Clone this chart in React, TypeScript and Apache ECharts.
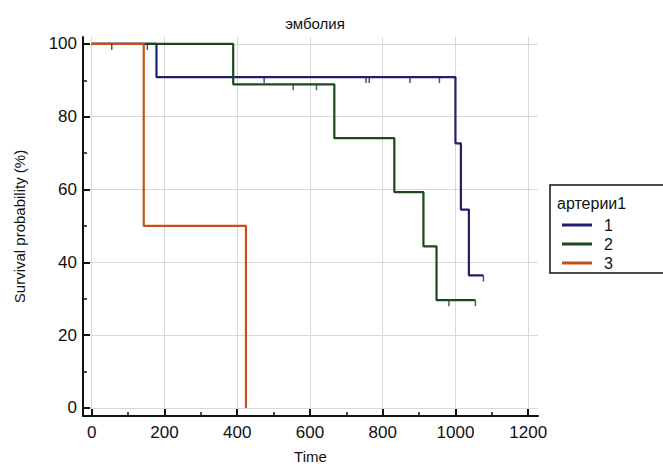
import React, { useEffect, useRef } from "react";
import * as echarts from "echarts";

const titleText = "эмболия";
const legendTitle = "артерии1";
const groupNames = ["1", "2", "3"];
const colors = ["#1f1f6e", "#1a4a1a", "#c4501c"];

const times1 = [0, 178, 1000, 1015, 1037, 1077];
const surv1 = [100, 90.9, 72.7, 54.5, 36.4, 36.4];
const times2 = [0, 389, 667, 832, 912, 948, 1055];
const surv2 = [100, 88.9, 74.1, 59.3, 44.4, 29.6, 29.6];
const times3 = [0, 143, 424];
const surv3 = [100, 50, 0];

const cens1T = [55, 153, 474, 754, 763, 875, 956, 1077];
const cens1S = [100, 100, 90.9, 90.9, 90.9, 90.9, 90.9, 36.4];
const cens2T = [554, 618, 982, 1055];
const cens2S = [88.9, 88.9, 29.6, 29.6];

const xMajor = [0, 200, 400, 600, 800, 1000, 1200];
const xMinor = [100, 300, 500, 700, 900, 1100];
const yMajor = [0, 20, 40, 60, 80, 100];
const yMinor = [10, 30, 50, 70, 90];

const FONT = "Liberation Sans, Arial, sans-serif";

function zip(a: number[], b: number[]) {
  return a.map((v, i) => [v, b[i]]);
}

export default function App() {
  const ref = useRef<HTMLDivElement>(null);
  useEffect(() => {
    if (!ref.current) return;
    const chart = echarts.init(ref.current, null, { renderer: "svg" });
    const grid = { left: 83, right: 125, top: 37, bottom: 47 };
    const xBase = { type: "value", min: -24, max: 1227, gridIndex: 0 };
    const yBase = { type: "value", min: -2.2, max: 101.9, gridIndex: 0 };
    const lineS = (name: string, d: number[][], c: string) => ({
      type: "line",
      name,
      data: d,
      step: "end",
      showSymbol: false,
      symbol: "none",
      lineStyle: { color: c, width: 2.2 },
      itemStyle: { color: c },
      z: 3,
    });
    const cens = (d: number[][], c: string) => ({
      type: "scatter",
      data: d,
      symbol: "rect",
      symbolSize: [1.5, 6],
      symbolOffset: [0, 3],
      itemStyle: { color: c },
      silent: true,
      z: 3,
    });
    chart.setOption({
      animation: false,
      backgroundColor: "#ffffff",
      title: {
        text: titleText,
        left: 310,
        top: 11,
        textAlign: "center",
        textStyle: { fontFamily: FONT, fontSize: 15, fontWeight: "normal", color: "#111" },
      },
      grid,
      xAxis: [
        {
          ...xBase,
          name: "Time",
          nameLocation: "middle",
          nameGap: 33,
          nameTextStyle: { fontFamily: FONT, fontSize: 15, color: "#111" },
          axisLine: { show: true, onZero: false, lineStyle: { color: "#111", width: 2 } },
          axisTick: { show: true, inside: true, length: 7, customValues: xMajor, lineStyle: { color: "#111", width: 2 } },
          axisLabel: { customValues: xMajor, margin: 8, fontFamily: FONT, fontSize: 17, color: "#111", formatter: (v: number) => String(v) },
          splitLine: { show: true, lineStyle: { color: "#d8d8d8", width: 1 } },
        },
        {
          ...xBase,
          position: "bottom",
          axisLine: { show: false, onZero: false },
          axisTick: { show: true, inside: true, length: 4, customValues: xMinor, lineStyle: { color: "#111", width: 1.5 } },
          axisLabel: { show: false },
          splitLine: { show: false },
        },
      ],
      yAxis: [
        {
          ...yBase,
          name: "Survival probability (%)",
          nameLocation: "middle",
          nameGap: 56,
          nameTextStyle: { fontFamily: FONT, fontSize: 15, color: "#111" },
          axisLine: { show: true, onZero: false, lineStyle: { color: "#111", width: 2 } },
          axisTick: { show: true, inside: true, length: 7, customValues: yMajor, lineStyle: { color: "#111", width: 2 } },
          axisLabel: { customValues: yMajor, margin: 6, fontFamily: FONT, fontSize: 17, color: "#111", formatter: (v: number) => String(v) },
          splitLine: { show: true, lineStyle: { color: "#d8d8d8", width: 1 } },
        },
        {
          ...yBase,
          position: "left",
          axisLine: { show: false, onZero: false },
          axisTick: { show: true, inside: true, length: 4, customValues: yMinor, lineStyle: { color: "#111", width: 1.5 } },
          axisLabel: { show: false },
          splitLine: { show: false },
        },
      ],
      legend: {
        orient: "vertical",
        left: 557,
        top: 212,
        itemWidth: 30,
        itemHeight: 3,
        itemGap: 3,
        icon: "rect",
        data: groupNames,
        textStyle: { fontFamily: FONT, fontSize: 16, color: "#111", padding: [0, 0, 0, 7] },
        selectedMode: false,
      },
      graphic: [
        {
          type: "rect",
          shape: { x: 550, y: 185, width: 130, height: 88 },
          style: { fill: "none", stroke: "#111", lineWidth: 1.5 },
          silent: true,
        },
        {
          type: "text",
          x: 557,
          y: 203,
          style: { text: legendTitle, fontFamily: FONT, fontSize: 16, fill: "#111", verticalAlign: "middle" },
          silent: true,
        },
      ],
      series: [
        lineS(groupNames[0], zip(times1, surv1), colors[0]),
        lineS(groupNames[1], zip(times2, surv2), colors[1]),
        lineS(groupNames[2], zip(times3, surv3), colors[2]),
        cens(zip(cens1T, cens1S), colors[0]),
        cens(zip(cens2T, cens2S), colors[1]),
      ],
    });
    return () => chart.dispose();
  }, []);
  return <div ref={ref} style={{ width: 663, height: 469, position: "absolute", left: 0, top: 0 }} />;
}
